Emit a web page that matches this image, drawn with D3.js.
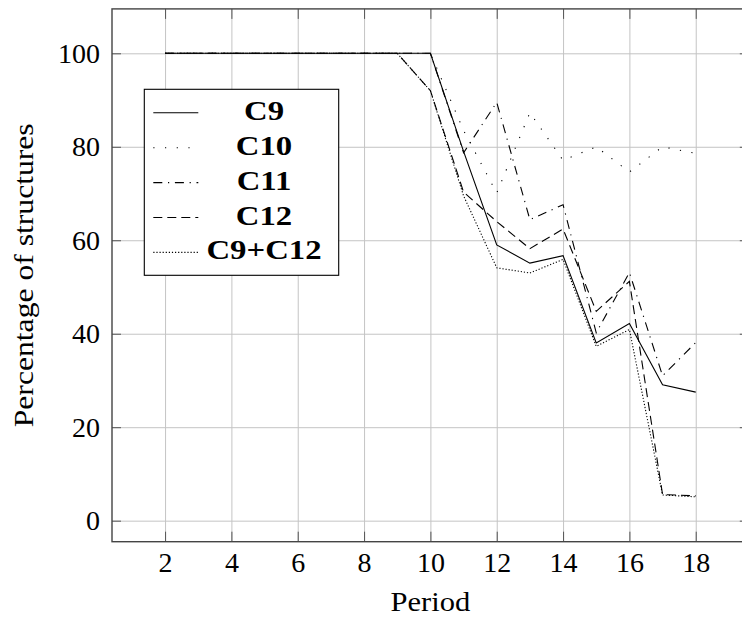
<!DOCTYPE html>
<html lang="en">
<head>
  <meta charset="utf-8">
  <title>Percentage of structures per period</title>
  <script src="https://cdn.jsdelivr.net/npm/d3@7/dist/d3.min.js"></script>
  <style>
    body { margin: 0; background: #fff; }
    svg text { font-family: "Liberation Serif", "Times New Roman", serif; fill: #000; }
    .grid line { stroke: #c4c4c4; stroke-width: 1; }
    .grid path { display: none; }
    .ticks line { stroke: #555; stroke-width: 1; }
    .ticks path { display: none; }
  </style>
</head>
<body>
<div id="chart"></div>
<script>
// values
var periods = [2, 3, 4, 5, 6, 7, 8, 9, 10, 11, 12, 13, 14, 15, 16, 17, 18];
var c9     = [100, 100, 100, 100, 100, 100, 100, 100, 100, 79, 59, 55.1, 56.7, 38, 42.2, 29.1, 27.5];
var c10    = [100, 100, 100, 100, 100, 100, 100, 100, 100, 83.5, 70.1, 87.3, 77.1, 80, 74.6, 80, 78.6];
var c11    = [100, 100, 100, 100, 100, 100, 100, 100, 100, 78.7, 89.5, 64.4, 67.6, 40.2, 53.1, 31, 38.1];
var c12    = [100, 100, 100, 100, 100, 100, 100, 100, 92, 70.3, 64, 58.2, 62.4, 44.8, 51.2, 5.6, 5.3];
var c9c12  = [100, 100, 100, 100, 100, 100, 100, 100, 92, 69.5, 54.1, 53, 55.9, 37.3, 40.9, 5.5, 5.1];

var seriesNames = ["C9", "C10", "C11", "C12", "C9+C12"];
var seriesValues = [c9, c10, c11, c12, c9c12];
var xTicks = [2, 4, 6, 8, 10, 12, 14, 16, 18];
var yTicks = [0, 20, 40, 60, 80, 100];

// line styles (black, like the latex original)
var dashes = [null, "1.2,10.5", "9,5.7,1.2,5.7", "9,5", "1.2,1.9"];

var W = 742, H = 617;
var pLeft = 112, pRight = 748.8, pTop = 8.9, pBottom = 541.7;

var svg = d3.select("#chart").append("svg")
    .attr("width", W)
    .attr("height", H);

var x = d3.scaleLinear().domain([0.4, 19.6]).range([pLeft, pRight]);
var y = d3.scaleLinear().domain([-4.5, 109.5]).range([pBottom, pTop]);

// widen a text to mimic computer modern proportions
function widen(sel, f) {
  sel.each(function () {
    var w = this.getComputedTextLength();
    d3.select(this).attr("textLength", w * f).attr("lengthAdjust", "spacingAndGlyphs");
  });
}

// grid
svg.append("g").attr("class", "grid")
    .attr("transform", "translate(0," + pBottom + ")")
    .call(d3.axisBottom(x).tickValues(xTicks).tickSize(-(pBottom - pTop)).tickFormat(""));
svg.append("g").attr("class", "grid")
    .attr("transform", "translate(" + pLeft + ",0)")
    .call(d3.axisLeft(y).tickValues(yTicks).tickSize(-(pRight - pLeft)).tickFormat(""));

// series
var line = d3.line()
    .x(function (d, i) { return x(periods[i]); })
    .y(function (d) { return y(d); });

seriesValues.forEach(function (vals, k) {
  svg.append("path")
      .datum(vals)
      .attr("d", line)
      .attr("fill", "none")
      .attr("stroke", "#000")
      .attr("stroke-width", 1.1)
      .attr("stroke-dasharray", dashes[k]);
});

// inward tick marks on all sides
svg.append("g").attr("class", "ticks")
    .attr("transform", "translate(0," + pBottom + ")")
    .call(d3.axisBottom(x).tickValues(xTicks).tickSize(-10).tickFormat(""));
svg.append("g").attr("class", "ticks")
    .attr("transform", "translate(0," + pTop + ")")
    .call(d3.axisTop(x).tickValues(xTicks).tickSize(-10).tickFormat(""));
svg.append("g").attr("class", "ticks")
    .attr("transform", "translate(" + pLeft + ",0)")
    .call(d3.axisLeft(y).tickValues(yTicks).tickSize(-9).tickFormat(""));
svg.append("g").attr("class", "ticks")
    .attr("transform", "translate(" + pRight + ",0)")
    .call(d3.axisRight(y).tickValues(yTicks).tickSize(-9).tickFormat(""));

// frame
svg.append("rect")
    .attr("x", pLeft).attr("y", pTop)
    .attr("width", pRight - pLeft).attr("height", pBottom - pTop)
    .attr("fill", "none")
    .attr("stroke", "#444")
    .attr("stroke-width", 1.4);

// tick labels
var xAxis = svg.append("g")
    .attr("transform", "translate(0," + pBottom + ")")
    .call(d3.axisBottom(x).tickValues(xTicks).tickSize(0).tickPadding(10));
xAxis.select(".domain").remove();
xAxis.selectAll("text").attr("font-size", 28);

var yAxis = svg.append("g")
    .attr("transform", "translate(" + pLeft + ",0)")
    .call(d3.axisLeft(y).tickValues(yTicks).tickSize(0).tickPadding(12));
yAxis.select(".domain").remove();
yAxis.selectAll("text").attr("font-size", 28);

// axis titles
svg.append("text")
    .attr("x", (pLeft + pRight) / 2)
    .attr("y", 610.7)
    .attr("text-anchor", "middle")
    .attr("font-size", 28)
    .text("Period")
    .call(widen, 1.09);

svg.append("text")
    .attr("transform", "translate(33.3," + (pTop + pBottom) / 2 + ") rotate(-90)")
    .attr("text-anchor", "middle")
    .attr("font-size", 28)
    .text("Percentage of structures")
    .call(widen, 1.13);

// legend
var legend = svg.append("g");
legend.append("rect")
    .attr("x", 144.3).attr("y", 89.3)
    .attr("width", 194.4).attr("height", 186)
    .attr("fill", "#fff")
    .attr("stroke", "#000")
    .attr("stroke-width", 1.1);

seriesNames.forEach(function (name, k) {
  var ry = 112.8 + k * 34.9;
  legend.append("line")
      .attr("x1", 153.3).attr("x2", 198.3)
      .attr("y1", ry).attr("y2", ry)
      .attr("stroke", "#000")
      .attr("stroke-width", 1.1)
      .attr("stroke-dasharray", dashes[k]);
  legend.append("text")
      .attr("x", 264)
      .attr("y", ry + 7)
      .attr("text-anchor", "middle")
      .attr("font-size", 28)
      .attr("font-weight", "bold")
      .text(name)
      .call(widen, 1.17);
});
</script>
</body>
</html>
